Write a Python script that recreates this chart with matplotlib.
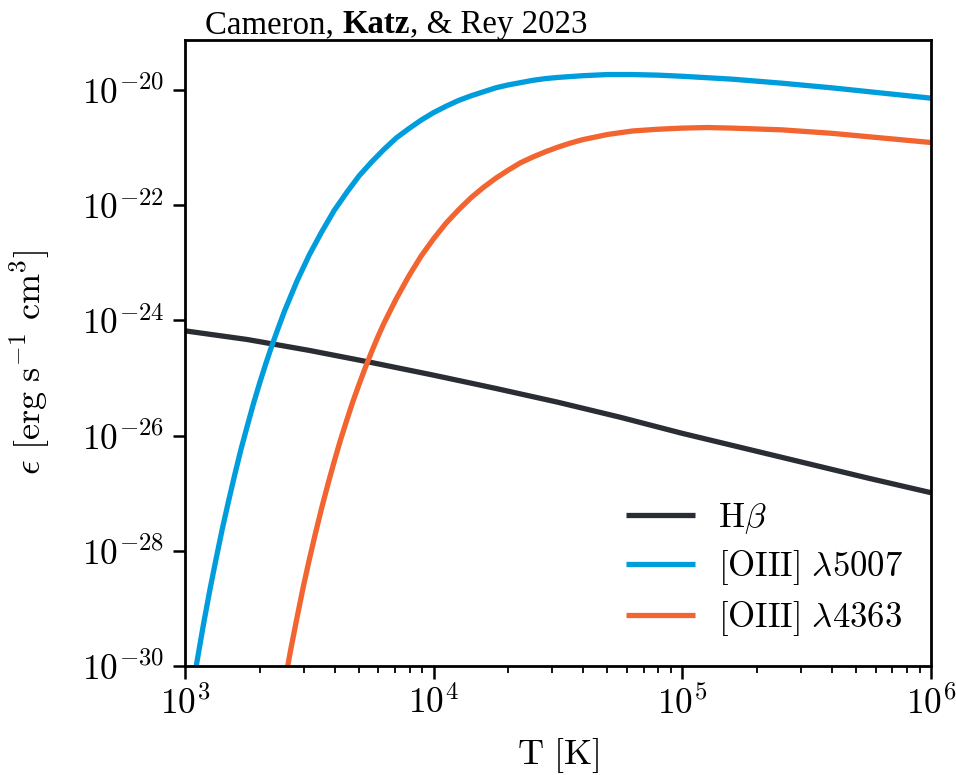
import numpy as np
import matplotlib
matplotlib.use("Agg")
import matplotlib.pyplot as plt
from matplotlib.ticker import FixedLocator, NullLocator, LogFormatterSciNotation
from matplotlib.transforms import offset_copy

plt.rcParams['mathtext.fontset'] = 'cm'
plt.rcParams['font.family'] = 'serif'
plt.rcParams['font.serif'] = ['cmr10', 'DejaVu Serif']
plt.rcParams['axes.formatter.use_mathtext'] = True

# log10 temperature [K] and log10 emissivity
logT_hb = [3.00, 3.25, 3.50, 3.75, 4.00, 4.25, 4.50, 4.75, 5.00, 5.25, 5.50, 5.75, 6.00]
logE_hb = [-24.18, -24.33, -24.52, -24.73, -24.95, -25.18, -25.42, -25.68, -25.96, -26.22, -26.48, -26.74, -26.99]

logT_5007 = [3.000, 3.025, 3.050, 3.075, 3.100, 3.125, 3.150, 3.175, 3.200, 3.225, 3.250, 3.275,
             3.300, 3.325, 3.350, 3.375, 3.400, 3.425, 3.450, 3.475, 3.500, 3.550, 3.600, 3.650,
             3.700, 3.750, 3.800, 3.850, 3.900, 3.950, 4.000, 4.050, 4.100, 4.150, 4.200, 4.250,
             4.300, 4.350, 4.400, 4.450, 4.500, 4.600, 4.700, 4.800, 4.900, 5.000, 5.200, 5.400,
             5.600, 5.800, 6.000]
logE_5007 = [-31.23, -30.53, -29.88, -29.26, -28.68, -28.14, -27.62, -27.14, -26.68, -26.24, -25.84,
             -25.45, -25.09, -24.75, -24.43, -24.13, -23.84, -23.58, -23.32, -23.09, -22.86, -22.46,
             -22.09, -21.78, -21.49, -21.25, -21.03, -20.83, -20.67, -20.52, -20.39, -20.28, -20.18,
             -20.10, -20.03, -19.96, -19.91, -19.87, -19.83, -19.80, -19.78, -19.75, -19.73, -19.73,
             -19.74, -19.76, -19.81, -19.88, -19.96, -20.05, -20.14]

logT_4363 = [3.400, 3.425, 3.450, 3.475, 3.500, 3.525, 3.550, 3.575, 3.600, 3.625, 3.650, 3.675,
             3.700, 3.725, 3.750, 3.775, 3.800, 3.850, 3.900, 3.950, 4.000, 4.050, 4.100, 4.150,
             4.200, 4.250, 4.300, 4.350, 4.400, 4.450, 4.500, 4.550, 4.600, 4.700, 4.800, 4.900,
             5.000, 5.100, 5.200, 5.400, 5.600, 5.800, 6.000]
logE_4363 = [-30.31, -29.72, -29.17, -28.64, -28.15, -27.69, -27.25, -26.84, -26.45, -26.08, -25.74,
             -25.41, -25.11, -24.82, -24.55, -24.29, -24.05, -23.62, -23.23, -22.88, -22.58, -22.31,
             -22.08, -21.87, -21.69, -21.53, -21.39, -21.26, -21.16, -21.07, -20.99, -20.92, -20.86,
             -20.77, -20.71, -20.68, -20.66, -20.65, -20.66, -20.69, -20.75, -20.83, -20.91]

labels = [r'$\mathrm{H}\beta$', r'$\mathrm{[OIII]}\ \lambda5007$', r'$\mathrm{[OIII]}\ \lambda4363$']
colors = ['#2a2d34', '#009ddc', '#f26430']
yticks = [1e-30, 1e-28, 1e-26, 1e-24, 1e-22, 1e-20]
title_parts = [('Cameron, ', 'normal'), ('Katz', 'bold'), (', & Rey 2023', 'normal')]

FS = 25

fig = plt.figure(figsize=(9.56, 7.75), dpi=100)
ax = fig.add_axes([0.1935, 0.1406, 0.7803, 0.8078])

series = [(logT_hb, logE_hb), (logT_5007, logE_5007), (logT_4363, logE_4363)]
for (lt, le), lab, c in zip(series, labels, colors):
    ax.plot(10 ** np.array(lt), 10 ** np.array(le), color=c, lw=3.8, label=lab,
            solid_capstyle='butt')

ax.set_xscale('log')
ax.set_yscale('log')
ax.set_xlim(1e3, 1e6)
ax.set_ylim(1e-30, 10 ** (-19.13))
ax.yaxis.set_major_locator(FixedLocator(yticks))
ax.yaxis.set_minor_locator(NullLocator())
ax.yaxis.set_major_formatter(LogFormatterSciNotation())

for s in ax.spines.values():
    s.set_linewidth(2.0)
ax.tick_params(which='major', direction='out', length=9, width=1.8, labelsize=25.5, pad=5)
ax.tick_params(which='minor', direction='out', length=5, width=1.3)
ax.tick_params(axis='y', pad=6)

ax.set_xlabel(r'$\mathrm{T\ [K]}$', fontsize=26)
ax.set_ylabel(r'$\epsilon\ [\mathrm{erg\ s^{-1}\ cm^{3}}]$', fontsize=26)
ax.xaxis.set_label_coords(0.5, -0.112)
ax.yaxis.set_label_coords(-0.178, 0.485)

leg = ax.legend(loc='lower right', frameon=False, fontsize=FS, handlelength=2.0,
                handletextpad=0.65, labelspacing=0.35, borderaxespad=0.4)

# title built from pieces (bold middle name)
TFS = 23.7
renderer = fig.canvas.get_renderer()
xoff = 0.0
for txt, wt in title_parts:
    tr = offset_copy(ax.transAxes, fig=fig, x=xoff, y=0, units='dots')
    ax.text(0.027, 1.011, txt, transform=tr, fontsize=TFS, fontweight=wt,
            family='Liberation Serif', va='baseline', ha='left')
    sp = ax.text(0, 0, 'a' + txt + 'a', fontsize=TFS, fontweight=wt, family='Liberation Serif')
    sp2 = ax.text(0, 0, 'aa', fontsize=TFS, fontweight=wt, family='Liberation Serif')
    w = sp.get_window_extent(renderer).width - sp2.get_window_extent(renderer).width
    sp.remove(); sp2.remove()
    xoff += w

fig.savefig('out.png', dpi=100)
